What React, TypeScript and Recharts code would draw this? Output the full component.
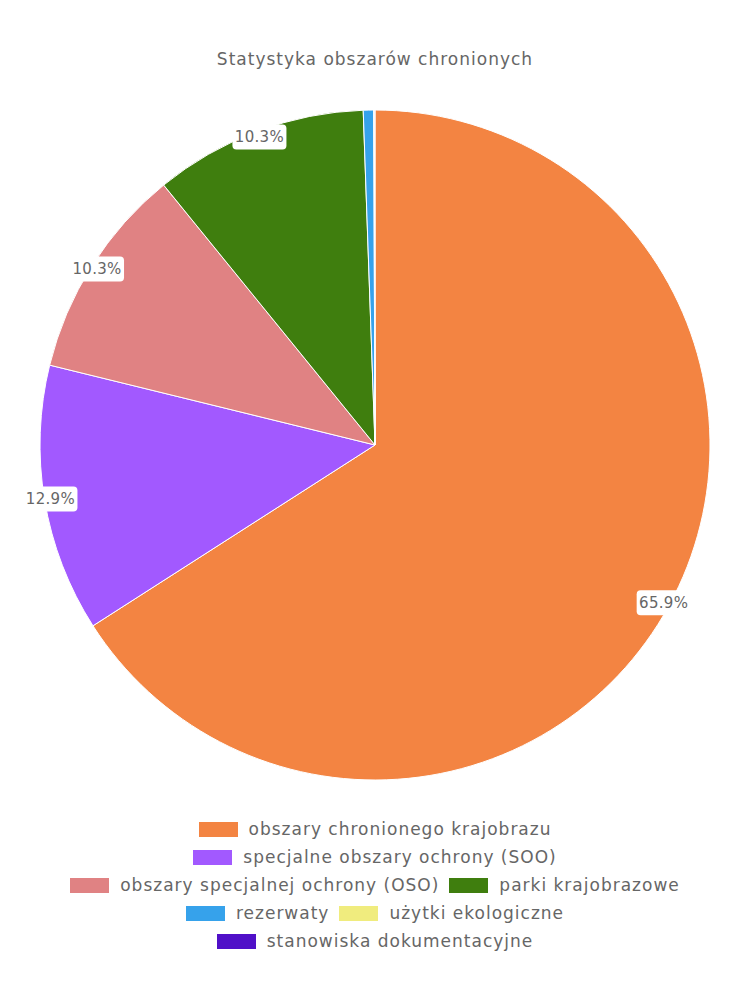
import { Legend, Pie, PieChart, Cell } from "recharts";

const categories = [
	"obszary chronionego krajobrazu",
	"specjalne obszary ochrony (SOO)",
	"obszary specjalnej ochrony (OSO)",
	"parki krajobrazowe",
	"rezerwaty",
	"użytki ekologiczne",
	"stanowiska dokumentacyjne",
];
const shares = [65.9, 12.9, 10.3, 10.3, 0.5, 0.03, 0.03];
const colors = ["#F38442", "#A259FF", "#E08283", "#3F7E0E", "#36A2EB", "#F0EC7E", "#5010C8"];
const legendRows = [[0], [1], [2, 3], [4, 5], [6]];

const data = categories.map((name, i) => ({ name, value: shares[i] }));

const FONT = "'DejaVu Sans', sans-serif";
const RAD = Math.PI / 180;

function renderLabel(props: any) {
	const { cx, cy, midAngle, outerRadius, value } = props;
	if (value < 1) return null;
	const r = outerRadius - 6;
	const x = cx + r * Math.cos(-midAngle * RAD);
	const y = cy + r * Math.sin(-midAngle * RAD);
	const text = value.toFixed(1) + "%";
	const w = 54;
	const h = 25;
	return (
		<g>
			<rect x={x - w / 2} y={y - h / 2} width={w} height={h} rx={4} fill="#fff" />
			<text x={x} y={y} textAnchor="middle" dominantBaseline="central" fill="#666" fontSize={15} letterSpacing={0.3} fontFamily={FONT}>
				{text}
			</text>
		</g>
	);
}

function LegendContent() {
	return (
		<div style={{ fontFamily: FONT, fontSize: 17, color: "#666", letterSpacing: 1 }}>
			{legendRows.map((row, ri) => (
				<div key={ri} style={{ display: "flex", justifyContent: "center", height: 28, alignItems: "center" }}>
					{row.map((i) => (
						<div key={i} style={{ display: "flex", alignItems: "center", margin: "0 5px" }}>
							<span style={{ display: "inline-block", width: 39, height: 15, background: colors[i], marginRight: 11 }} />
							<span>{categories[i]}</span>
						</div>
					))}
				</div>
			))}
		</div>
	);
}

export default function App() {
	return (
		<div style={{ position: "relative", width: 734, height: 984 }}>
			<div
				style={{
					position: "absolute",
					top: 41,
					left: 0,
					width: 734,
					textAlign: "center",
					fontFamily: FONT,
					fontSize: 17,
					letterSpacing: 1,
					color: "#666",
				}}
			>
				Statystyka obszarów chronionych
			</div>
			<PieChart width={734} height={984} margin={{ top: 0, right: 0, bottom: 0, left: 0 }}>
				<Pie
					data={data}
					dataKey="value"
					nameKey="name"
					cx={367}
					cy={437}
					outerRadius={335}
					startAngle={90}
					endAngle={-270}
					stroke="#fff"
					strokeWidth={1}
					label={renderLabel}
					labelLine={false}
					isAnimationActive={false}
				>
					{data.map((d, i) => (
						<Cell key={d.name} fill={colors[i]} />
					))}
				</Pie>
				<Legend content={<LegendContent />} wrapperStyle={{ position: "absolute", top: 807, left: 0, width: 734 }} />
			</PieChart>
		</div>
	);
}
